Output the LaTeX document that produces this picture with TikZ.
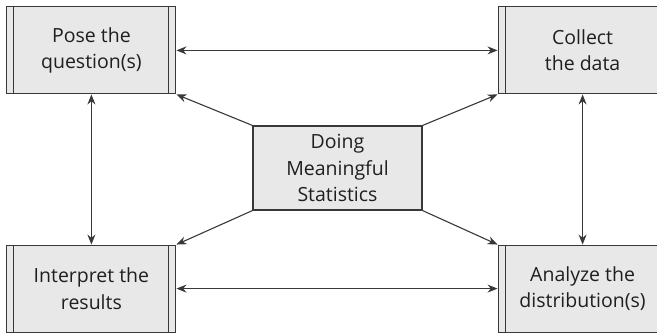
\documentclass[tikz,border=0pt]{standalone}
\usepackage{fontspec}
\setmainfont{Open Sans}
\usepackage{tikz}
\usetikzlibrary{arrows.meta,positioning}
\definecolor{boxfill}{HTML}{E8E8E8}
\definecolor{inkgray}{HTML}{383838}

\begin{document}
\begin{tikzpicture}[
  x=1pt,y=1pt,
  font=\fontsize{19.5}{26.5}\selectfont,
  box/.style={draw=inkgray,fill=boxfill,line width=1.1pt,align=center,inner sep=0pt,
    minimum width=169pt,minimum height=87pt,text=black!88},
  proc/.style={box,path picture={
    \draw[inkgray,line width=1.1pt]
      ([xshift=7pt]path picture bounding box.north west)--([xshift=7pt]path picture bounding box.south west)
      ([xshift=-7pt]path picture bounding box.north east)--([xshift=-7pt]path picture bounding box.south east);}},
  hub/.style={box,minimum height=84pt},
  arr/.style={{Stealth[length=10pt,width=8pt]}-{Stealth[length=10pt,width=8pt]},draw=inkgray,line width=1.1pt},
  spoke/.style={-{Stealth[length=10pt,width=8pt]},draw=inkgray,line width=1.1pt}
]
\clip (0,0) rectangle (657,-333);
\node[hub] (core) at (337.5,-168) {Doing\\Meaningful\\Statistics};
\node[proc,above left=31pt and 76pt of core] (pose) {Pose the\\question(s)};
\node[proc,above right=31pt and 75pt of core] (collect) {Collect\\the data};
\node[proc,below left=34pt and 76pt of core] (interp) {Interpret the\\results};
\node[proc,below right=34pt and 75pt of core] (analyze) {Analyze the\\distribution(s)};
\draw[spoke] (core.north west)--(pose.south east);
\draw[spoke] (core.north east)--(collect.south west);
\draw[spoke] (core.south west)--(interp.north east);
\draw[spoke] (core.south east)--(analyze.north west);
\draw[arr] (pose.east)--(collect.west);
\draw[arr] (interp.east)--(analyze.west);
\draw[arr] (pose.south)--(interp.north);
\draw[arr] (collect.south)--(analyze.north);
\end{tikzpicture}
\end{document}
